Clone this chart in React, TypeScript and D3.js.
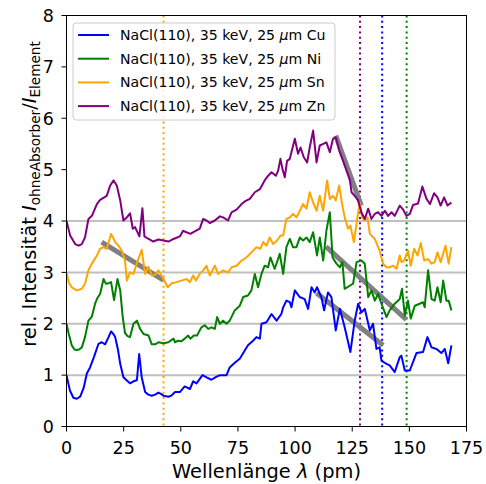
import React from "react";
import * as d3 from "d3";

// wavelength (pm), relative intensity
const cuData: [number, number][] = [
  [0, 1.0], [1.5, 0.7], [3, 0.56], [4.5, 0.54], [6, 0.58], [7.5, 0.75], [8.9, 1.03], [10.3, 1.15],
  [12, 1.35], [14, 1.61], [15.4, 1.64], [16.9, 1.6], [18.2, 1.72], [19.5, 1.85], [20.5, 1.8],
  [21.3, 1.74], [22.5, 1.5], [23.5, 1.22], [24.9, 0.96], [26.3, 0.9], [27.8, 0.84], [29.3, 0.88],
  [30.8, 0.9], [31.8, 1.41], [32.9, 0.96], [34.4, 0.67], [35.8, 0.62], [37.3, 0.6], [38.8, 0.62],
  [40.2, 0.66], [41.5, 0.63], [42.4, 0.6], [44.6, 0.58], [45.8, 0.6], [47.5, 0.67], [49.6, 0.67],
  [51.7, 0.78], [54, 0.73], [55.4, 0.88], [56.9, 0.84], [59.5, 1.0], [61.5, 0.95], [63.4, 0.91],
  [65.3, 0.96], [67.1, 1.0], [70, 1.0], [71.4, 1.15], [73.6, 1.24], [75.8, 1.32], [78, 1.48],
  [79.4, 1.58], [81.6, 1.67], [83.1, 1.74], [84.6, 1.71], [85.3, 2.0], [87.5, 2.03], [89.7, 2.19],
  [91.9, 2.06], [94, 2.19], [94.8, 2.32], [96.2, 2.45], [97.7, 2.42], [98.4, 2.32], [99.9, 2.65],
  [102, 2.52], [104.2, 2.48], [105.7, 2.29], [107.2, 2.71], [108.6, 2.61], [109.6, 2.71],
  [111.5, 2.52], [112.7, 2.26], [114.4, 2.61], [115.9, 2.52], [117.8, 1.87], [119.6, 2.29],
  [121.7, 1.93], [124.2, 1.45], [126.1, 2.06], [127.6, 2.39], [129, 2.22], [130.5, 2.29],
  [132.7, 1.87], [134.1, 2.0], [135.6, 1.51], [137, 1.54], [137.8, 1.28], [140, 1.22],
  [141.4, 1.19], [143.6, 1.06], [145.8, 1.35], [146.5, 1.38], [148, 1.09], [150.2, 1.09],
  [153.1, 1.43], [156, 1.45], [157.9, 1.74], [159.7, 1.54], [161.9, 1.51], [164, 1.43],
  [165.5, 1.51], [167, 1.23], [168.4, 1.58],
];

const niData: [number, number][] = [
  [0, 2.0], [1, 1.8], [2.3, 1.58], [3.5, 1.5], [4.5, 1.49], [5.5, 1.5], [6.7, 1.54], [8.1, 1.74],
  [9.6, 2.06], [11.1, 2.14], [12.5, 2.39], [13.5, 2.5], [14.7, 2.58], [16.2, 2.87], [17.2, 2.78],
  [18.4, 2.79], [19.5, 2.81], [20.8, 2.46], [22.3, 2.87], [23.5, 2.65], [24.6, 2.13], [25.6, 1.82],
  [26.7, 1.76], [27.8, 1.74], [29.3, 2.0], [30.8, 2.06], [32.2, 1.9], [33.7, 1.8], [35.9, 1.77],
  [37.3, 1.6], [38.8, 1.6], [40.2, 1.64], [42.4, 1.62], [44.6, 1.64], [46.8, 1.71], [47.5, 1.64],
  [48.8, 1.67], [50.3, 1.66], [51.7, 1.71], [53.2, 1.77], [54.2, 1.71], [55.7, 1.77], [57.1, 1.77],
  [59, 1.93], [60.5, 1.97], [62, 1.9], [63.4, 1.93], [64.9, 1.9], [65.9, 2.13], [67.1, 2.0],
  [68.5, 2.06], [70, 2.0], [71.4, 2.06], [73.6, 2.26], [75.8, 2.35], [77.3, 2.52], [79.4, 2.55],
  [80.9, 2.65], [82.4, 2.97], [83.8, 2.71], [85.3, 2.97], [86.7, 3.13], [88.2, 3.1], [89.2, 3.29],
  [91.1, 3.07], [93.3, 3.36], [94.8, 2.97], [96.2, 3.49], [97.7, 3.65], [99.1, 3.49], [100.6, 3.49],
  [102.1, 3.68], [103.5, 3.62], [105, 3.68], [106.4, 3.59], [107.9, 3.78], [109.6, 3.33],
  [110.8, 3.68], [112.3, 3.23], [113.7, 3.81], [115.2, 4.17], [116.4, 3.29], [118.1, 3.17],
  [119.6, 3.1], [120.7, 3.2], [121.7, 2.68], [123.9, 2.74], [125.4, 2.78], [126.9, 3.2], [129, 3.23],
  [130.5, 3.17], [132, 2.52], [133.4, 2.65], [134.9, 2.45], [136.3, 2.58], [137.8, 2.39],
  [140, 2.13], [141.4, 2.26], [143.6, 2.39], [145.8, 2.48], [146.8, 2.68], [148, 2.16],
  [149.4, 2.45], [150.6, 2.1], [152.4, 2.35], [154.5, 2.39], [156, 2.42], [156.7, 2.32],
  [158.2, 3.04], [159.7, 2.48], [161.1, 2.45], [162.3, 2.71], [163.7, 2.42], [164.8, 2.84],
  [166.2, 2.45], [167.2, 2.45], [168.4, 2.26],
];

const snData: [number, number][] = [
  [0, 3.0], [1, 2.8], [2.3, 2.71], [4.5, 2.65], [6.7, 2.68], [8.1, 2.78], [9.6, 3.04], [11.1, 3.17],
  [13.3, 3.33], [14.7, 3.46], [16.2, 3.49], [17.6, 3.46], [19.5, 3.75], [21.3, 3.59], [22.7, 3.52],
  [24.2, 3.42], [25.6, 3.23], [26.4, 2.84], [27.8, 3.0], [29.3, 2.97], [31.2, 3.23], [32.9, 3.44],
  [34.4, 2.97], [35.9, 3.11], [37.3, 2.94], [38.8, 2.95], [40.2, 3.04], [42.4, 2.87], [44.3, 2.71],
  [46.1, 2.79], [48.1, 2.81], [50.3, 2.84], [52.5, 2.87], [54, 2.81], [55.4, 2.94], [56.6, 2.84],
  [58.3, 2.97], [59.8, 3.04], [61.2, 3.13], [62.7, 2.94], [64.9, 3.13], [66.3, 2.97], [68.5, 3.04],
  [70.7, 3.0], [72.2, 3.1], [74.4, 3.13], [76.6, 3.23], [78.7, 3.29], [80.9, 3.39], [83.1, 3.49],
  [84.9, 3.46], [86, 3.59], [87.5, 3.52], [88.9, 3.68], [90.4, 3.55], [92.1, 3.62], [93.7, 3.72],
  [94.8, 3.72], [96.2, 4.04], [97.7, 4.07], [99.1, 4.14], [100.6, 4.07], [102.1, 4.2], [103.5, 4.33],
  [105, 4.24], [106.4, 4.56], [107.9, 4.36], [109.4, 4.2], [110.8, 4.49], [112.3, 4.2], [114, 4.79],
  [115.2, 4.43], [116.6, 4.49], [117.8, 4.4], [119.3, 4.69], [120.3, 4.4], [121.7, 4.07],
  [123.2, 3.85], [124.2, 3.91], [125.7, 3.59], [127.3, 4.07], [128.3, 4.36], [129.3, 4.07],
  [130.5, 4.01], [131.7, 4.07], [132.7, 3.75], [134.9, 3.65], [137, 3.42], [138.5, 3.17],
  [140, 3.1], [141.4, 3.1], [142.9, 3.13], [144.4, 3.07], [145.8, 3.33], [146.5, 3.2], [147.7, 3.23],
  [149.4, 3.42], [150.6, 3.13], [152.1, 3.46], [153.6, 3.33], [155, 3.57], [156.5, 3.23],
  [158.2, 3.26], [159.7, 3.17], [161.1, 3.2], [162.3, 3.39], [163.7, 3.2], [165.8, 3.52],
  [167.2, 3.17], [168.4, 3.49],
];

const znData: [number, number][] = [
  [0, 4.0], [1.6, 3.72], [3.8, 3.55], [5.3, 3.52], [6.7, 3.55], [8.1, 3.68], [9.6, 4.04], [11.1, 4.1],
  [13.3, 4.33], [14.7, 4.41], [17.6, 4.49], [19.1, 4.69], [20.6, 4.79], [22, 4.69], [23.5, 4.4],
  [24.9, 4.01], [26.4, 4.07], [27.8, 4.15], [29, 3.85], [30, 3.88], [31.9, 3.7], [33.2, 4.25],
  [34.1, 3.7], [35.9, 3.65], [38, 3.6], [40.2, 3.64], [42.4, 3.62], [44.6, 3.6], [46.8, 3.65],
  [49.6, 3.7], [51, 3.81], [52.5, 3.78], [54.2, 3.75], [56.1, 3.8], [58.3, 3.85], [59.8, 4.04],
  [61.2, 4.01], [62.7, 3.96], [64.9, 4.01], [67.1, 4.09], [68.5, 4.07], [70.7, 4.01], [72.2, 4.17],
  [74.4, 4.22], [76.6, 4.33], [78, 4.38], [80.2, 4.43], [82.4, 4.56], [84.6, 4.62], [86.7, 4.79],
  [88.2, 4.88], [89.7, 4.95], [91.6, 4.88], [92.6, 4.98], [93.6, 5.21], [94.5, 5.01], [95.5, 4.85],
  [96.5, 5.17], [97.7, 5.21], [99.9, 5.6], [101.3, 5.31], [102.4, 5.43], [103.8, 5.24],
  [105.3, 5.14], [106.4, 5.43], [107.9, 5.76], [109.4, 5.14], [110.8, 5.47], [112.3, 5.5],
  [113.7, 5.53], [115.2, 5.34], [116.6, 5.6], [117.8, 5.63], [119.3, 5.37], [121, 5.17],
  [122.5, 4.98], [124, 4.79], [124.7, 4.56], [126.1, 4.49], [127.6, 4.4], [129, 4.17], [130.5, 4.04],
  [132, 4.24], [133.4, 4.04], [134.9, 4.14], [136.3, 4.17], [137.8, 4.1], [139.3, 4.2], [140.7, 4.1],
  [142.2, 4.17], [143.6, 4.1], [145.8, 4.3], [147.3, 4.22], [148.7, 4.1], [150.2, 4.14],
  [151.6, 4.31], [153.8, 4.34], [155.7, 4.67], [157.5, 4.43], [159, 4.33], [160.8, 4.54],
  [162.3, 4.46], [163.7, 4.3], [165.2, 4.46], [166.7, 4.3], [168.4, 4.36],
];

// linear fits (gray)
const fitLines: [number, number][][] = [
  [[15.4, 3.59], [42.4, 2.85]],
  [[117.8, 5.66], [129, 4.3]],
  [[113.5, 3.5], [148.7, 2.08]],
  [[109.4, 2.6], [138.5, 1.58]],
];

// K-edges (pm)
const edges = [
  { x: 42.46, color: "orange" },
  { x: 128.4, color: "purple" },
  { x: 138.1, color: "blue" },
  { x: 148.8, color: "green" },
];

const series = [
  { label: "Cu", color: "blue", data: cuData },
  { label: "Ni", color: "green", data: niData },
  { label: "Sn", color: "orange", data: snData },
  { label: "Zn", color: "purple", data: znData },
];

const xTicks = [0, 25, 50, 75, 100, 125, 150, 175];
const yTicks = [0, 1, 2, 3, 4, 5, 6, 7, 8];
const gridLevels = [1, 2, 3, 4];

const W = 486;
const H = 484;
const left = 66.5;
const right = 466.5;
const top = 15.5;
const bottom = 426.5;
const font = "DejaVu Sans, sans-serif";
const tickSize = 17.5;

export default function App() {
  const x = d3.scaleLinear().domain([0, 175]).range([left, right]);
  const y = d3.scaleLinear().domain([0, 8]).range([bottom, top]);
  const line = d3
    .line<[number, number]>()
    .x((d) => x(d[0]))
    .y((d) => y(d[1]));

  return (
    <svg
      width={W}
      height={H}
      style={{ position: "absolute", left: 0, top: 0, background: "white" }}
      fontFamily={font}
    >
      <defs>
        <clipPath id="plot">
          <rect x={left} y={top} width={right - left} height={bottom - top} />
        </clipPath>
      </defs>

      <g clipPath="url(#plot)">
        {gridLevels.map((v) => (
          <line key={v} x1={left} x2={right} y1={y(v)} y2={y(v)} stroke="#c0c0c0" strokeWidth={2} />
        ))}
        {edges.map((e) => (
          <line
            key={e.color}
            x1={x(e.x)}
            x2={x(e.x)}
            y1={top}
            y2={bottom}
            stroke={e.color}
            strokeWidth={2}
            strokeDasharray="2,3.3"
          />
        ))}
        {fitLines.map((f, i) => (
          <path key={i} d={line(f) || ""} stroke="#808080" strokeWidth={5} fill="none" />
        ))}
        {series.map((s) => (
          <path
            key={s.label}
            d={line(s.data) || ""}
            stroke={s.color}
            strokeWidth={2}
            fill="none"
            strokeLinejoin="round"
          />
        ))}
      </g>

      {/* frame */}
      <rect x={left} y={top} width={right - left} height={bottom - top} fill="none" stroke="black" strokeWidth={1} />

      {/* x axis */}
      {xTicks.map((t) => (
        <g key={t}>
          <line x1={x(t)} x2={x(t)} y1={bottom} y2={bottom + 5} stroke="black" />
          <text x={x(t)} y={454} textAnchor="middle" fontSize={tickSize}>
            {t}
          </text>
        </g>
      ))}
      <text x={(left + right) / 2} y={478} textAnchor="middle" fontSize={19.4}>
        Wellenlänge <tspan fontStyle="italic">λ</tspan> (pm)
      </text>

      {/* y axis */}
      {yTicks.map((t) => (
        <g key={t}>
          <line x1={left - 5} x2={left} y1={y(t)} y2={y(t)} stroke="black" />
          <text x={54} y={y(t) + 6.3} textAnchor="end" fontSize={tickSize}>
            {t}
          </text>
        </g>
      ))}
      <text transform="translate(36,194) rotate(-90)" textAnchor="middle" fontSize={19.4}>
        rel. Intensität <tspan fontStyle="italic">I</tspan>
        <tspan fontSize={13.6} dy={4}>ohneAbsorber</tspan>
        <tspan dy={-4}>/</tspan>
        <tspan fontStyle="italic">I</tspan>
        <tspan fontSize={13.6} dy={4}>Element</tspan>
      </text>

      {/* legend */}
      <g>
        <rect x={73} y={23} width={262} height={97} rx={3} fill="white" fillOpacity={0.8} stroke="#cccccc" />
        {series.map((s, i) => {
          const ly = 35 + i * 23.7;
          return (
            <g key={s.label}>
              <line x1={78} x2={109} y1={ly} y2={ly} stroke={s.color} strokeWidth={2} />
              <text x={120} y={ly + 5} fontSize={14.1}>
                NaCl(110), 35 keV, 25 <tspan fontStyle="italic">μ</tspan>m {s.label}
              </text>
            </g>
          );
        })}
      </g>
    </svg>
  );
}
